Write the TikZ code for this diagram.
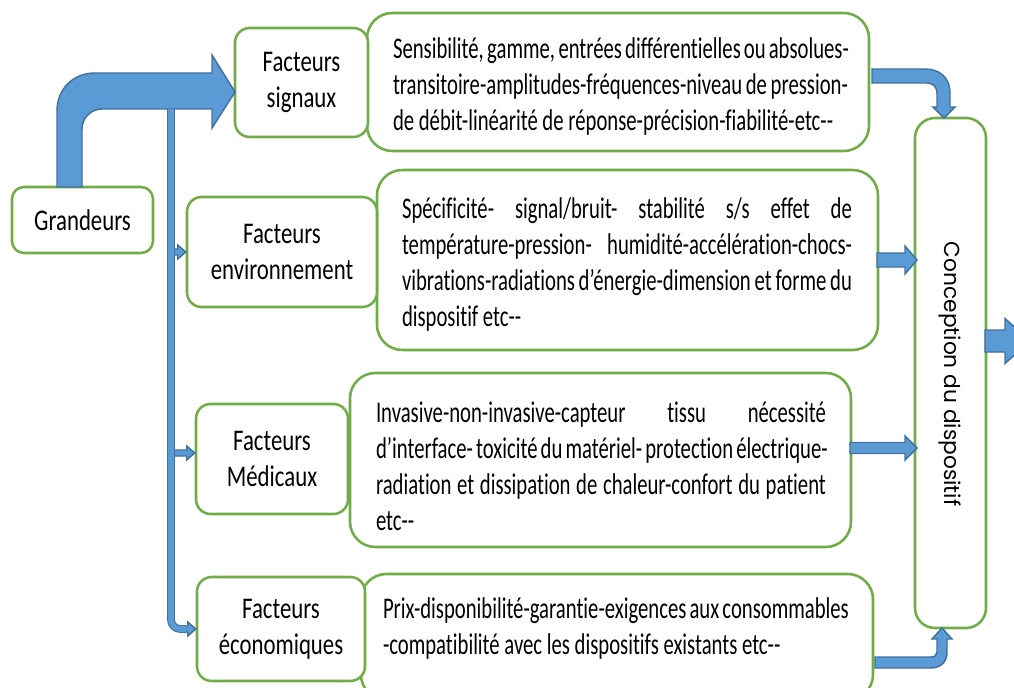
\documentclass[tikz,border=0pt]{standalone}
\usepackage{fontspec}
\setmainfont{Carlito}[Ligatures={TeXOff,NoCommon}]
\newfontfamily\labelfont{Carlito}[FakeStretch=0.76, Ligatures={TeXOff,NoCommon}]
\newfontfamily\bodyfont{Carlito}[FakeStretch=0.69, Ligatures={TeXOff,NoCommon}]
\newfontfamily\geofont{Poppins}
\usetikzlibrary{calc}

\definecolor{boxgreen}{HTML}{70AD47}
\definecolor{arrowblue}{HTML}{5B9BD5}
\definecolor{arrowedge}{HTML}{41719C}

% one drawing unit (the picture is laid out on a 1014 x 688 grid)
\newdimen\pxu \pxu=0.75pt

% a justified line of a given width
\newcommand\jl[2]{\makebox[#1\pxu][s]{#2}}
% right-pointing block arrow: tip, total length, shaft half-height, head length, head half-height
\newcommand\rarrow[5]{%
  \filldraw[blockarrow] (#1) -- ++(-#4,-#5) -- ++(0,#5-#3) -- ++(-#2+#4,0)
    -- ++(0,2*#3) -- ++(#2-#4,0) -- ++(0,#5-#3) -- cycle;}

\begin{document}
\begin{tikzpicture}[x=0.75pt,y=-0.75pt,
  labelbox/.style={draw=boxgreen, line width=1.9pt, fill=white, rounded corners=11pt,
                   inner sep=0pt, align=center, font=\labelfont\fontsize{22.5}{27}\selectfont},
  textbox/.style={draw=boxgreen, line width=1.9pt, fill=white, rounded corners=19pt,
                  inner sep=0pt},
  bodytext/.style={inner sep=0pt, align=left, font=\bodyfont\fontsize{22.5}{27}\selectfont},
  blockarrow/.style={fill=arrowblue, draw=arrowedge, line width=1.1pt, line join=miter},
  trunk/.style={draw=arrowedge, line width=0.8pt, double=arrowblue, double distance=4.2pt}
]
\useasboundingbox (0,0) rectangle (1014,688);
\clip (0,0) rectangle (1014,688);

% ---------- detail boxes ----------
\node[textbox, minimum width=502\pxu, minimum height=138\pxu] (t1) at (618,82) {};
\node[textbox, minimum width=501\pxu, minimum height=180\pxu] (t2) at (627.5,260) {};
\node[textbox, minimum width=501\pxu, minimum height=174\pxu] (t3) at (600.5,460) {};
\node[textbox, minimum width=512\pxu, minimum height=126\pxu] (t4) at (617,637) {};

\node[bodytext] (t1txt) at (620.5,86.5) {%
  \jl{455}{Sensibilité, gamme, entrées différentielles ou absolues-}\\
  \jl{455}{transitoire-amplitudes-fréquences-niveau de pression-}\\
  de débit-linéarité de réponse-précision-fiabilité-etc--};
\node[bodytext] (t2txt) at (627,265) {%
  \jl{450}{Spécificité- signal/bruit- stabilité s/s effet de}\\
  \jl{450}{température-pression- humidité-accélération-chocs-}\\
  \jl{450}{vibrations-radiations d’énergie-dimension et forme du}\\
  dispositif etc--};
\node[bodytext] (t3txt) at (601,466) {%
  \jl{450}{Invasive-non-invasive-capteur tissu nécessité}\\
  \jl{450}{d’interface- toxicité du matériel- protection électrique-}\\
  \jl{450}{radiation et dissipation de chaleur-confort du patient}\\
  etc--};
\node[bodytext] (t4txt) at (615.5,628) {%
  \jl{465}{Prix-disponibilité-garantie-exigences aux consommables}\\
  -compatibilité avec les dispositifs existants etc--};

% ---------- factor boxes ----------
\node[labelbox, minimum width=133\pxu, minimum height=109\pxu] (sig) at (301.5,82.5) {Facteurs\\signaux};
\node[labelbox, minimum width=190\pxu, minimum height=110\pxu] (env) at (282,252) {Facteurs\\environnement};
\node[labelbox, minimum width=152\pxu, minimum height=110\pxu] (med) at (272,459) {Facteurs\\Médicaux};
\node[labelbox, minimum width=168\pxu, minimum height=104\pxu] (eco) at (281,629) {Facteurs\\économiques};

\node[labelbox, rounded corners=9pt, minimum width=141\pxu, minimum height=66\pxu] (gr) at (82.5,220) {Grandeurs};

\node[labelbox, rounded corners=15pt, minimum width=71\pxu, minimum height=510\pxu] (concept) at (950.5,373) {};
\node[rotate=-90, inner sep=0pt, font=\geofont\fontsize{16.3}{18}\selectfont] (ctext) at (950,374) {Conception du dispositif};

% ---------- arrows ----------
% Grandeurs up and over to the signal factors
\filldraw[blockarrow] (57,187) -- (57,111) .. controls (57,89) and (73,73) .. (95,73)
  -- (212,73) -- (212,55) -- (235,92) -- (212,128) -- (212,109) -- (102,109)
  .. controls (91,109) and (82,118) .. (82,129) -- (82,187) -- cycle;

% branches towards the other factors
\coordinate (bm) at ($(med.west)+(0,-6)$);
\rarrow{env.west}{16}{3}{8}{7}
\rarrow{bm}{25}{3}{8}{7}
\rarrow{eco.west}{14}{3}{8}{7}
\draw[trunk, rounded corners=7pt] (171,109) |- (186,629);

% detail boxes into the design box
\filldraw[blockarrow] (872,69) -- (925,69) .. controls (940,69) and (950,78) .. (950,93)
  -- (950,107) -- (955,107) -- (944,118) -- (933,107) -- (937,107) -- (937,93)
  .. controls (937,87) and (933,83) .. (927,83) -- (872,83) -- cycle;
\coordinate (c2) at (917,260);
\coordinate (c3) at (917,448);
\rarrow{c2}{40}{7}{12}{14}
\rarrow{c3}{67}{5.5}{12}{12}
\filldraw[blockarrow] (875,668) -- (930,668) .. controls (941,668) and (947,662) .. (947,652)
  -- (947,639) -- (952,639) -- (942,628) -- (932,639) -- (937,639) -- (937,652)
  .. controls (937,655) and (935,657) .. (931,657) -- (875,657) -- cycle;

% output of the design box
\coordinate (cout) at (1030,341);
\rarrow{cout}{45}{11}{25}{22.5}
\end{tikzpicture}
\end{document}
